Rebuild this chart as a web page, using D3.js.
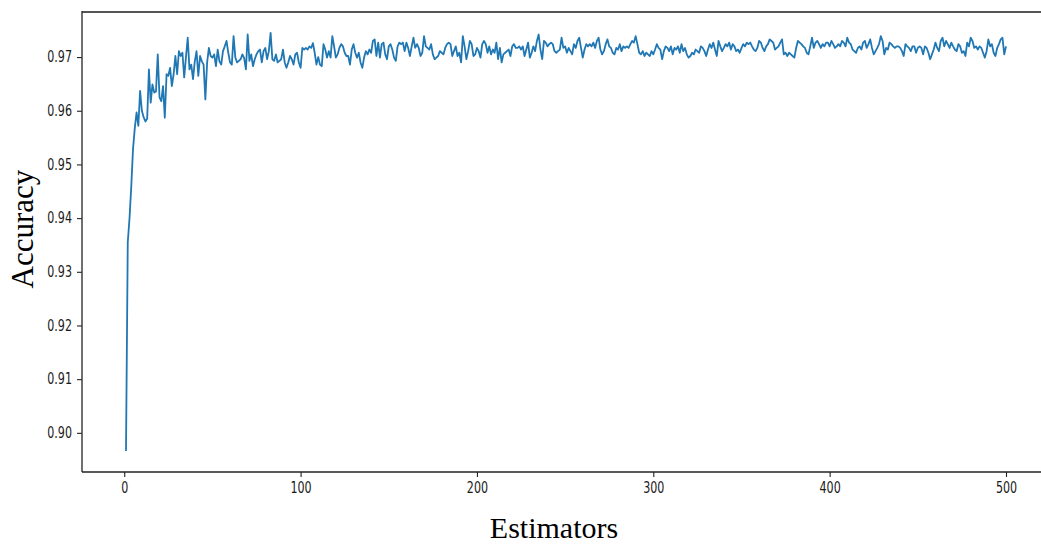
<!DOCTYPE html>
<html>
<head>
<meta charset="utf-8">
<script src="https://cdn.jsdelivr.net/npm/d3@7"></script>
<style>
  html, body { margin: 0; padding: 0; background: #fff; }
  svg { display: block; }
</style>
</head>
<body>
<svg id="chart" width="1041" height="544"></svg>
<script>
// Accuracy of the ensemble as the number of estimators grows (1..500)
const accFirst = [
  0.8966, 0.9355, 0.9400, 0.9460, 0.9530, 0.9568, 0.9597, 0.9572, 0.9637, 0.9600,
  0.9588, 0.9580, 0.9585, 0.9677, 0.9615, 0.9649, 0.9634, 0.9636, 0.9705, 0.9625,
  0.9618, 0.9646, 0.9587, 0.9668, 0.9665, 0.9680, 0.9646, 0.9668, 0.9702, 0.9668,
  0.9711, 0.9702, 0.9708, 0.9662, 0.9700, 0.9736, 0.9677, 0.9686, 0.9659, 0.9692,
  0.9711, 0.9665, 0.9702, 0.9692, 0.9686, 0.9621, 0.9690, 0.9717, 0.9702, 0.9699,
  0.9705, 0.9683, 0.9714, 0.9692, 0.9686, 0.9711, 0.9720, 0.9730, 0.9708, 0.9690,
  0.9686, 0.9739, 0.9699, 0.9690, 0.9693, 0.9696, 0.9705, 0.9698, 0.9677, 0.9742,
  0.9693, 0.9705, 0.9683, 0.9696, 0.9705, 0.9711, 0.9714, 0.9690, 0.9711, 0.9717,
  0.9696, 0.9711, 0.9745, 0.9696, 0.9693, 0.9705, 0.9690, 0.9693, 0.9696, 0.9714,
  0.9690, 0.9680, 0.9690, 0.9702, 0.9696, 0.9686, 0.9705, 0.9708, 0.9690, 0.9680,
  0.9717, 0.9714, 0.9717, 0.9714, 0.9720, 0.9717, 0.9726, 0.9708, 0.9686, 0.9700
];
const accSecond = [
  0.9686, 0.9683, 0.9724, 0.9714, 0.9699, 0.9711, 0.9699, 0.9739, 0.9720, 0.9699,
  0.9705, 0.9717, 0.9724, 0.9720, 0.9708, 0.9702, 0.9702, 0.9686, 0.9714, 0.9724,
  0.9708, 0.9699, 0.9708, 0.9690, 0.9680, 0.9699, 0.9711, 0.9705, 0.9714, 0.9708,
  0.9730, 0.9733, 0.9702, 0.9727, 0.9699, 0.9724, 0.9727, 0.9705, 0.9696, 0.9720,
  0.9724, 0.9714, 0.9699, 0.9693, 0.9720, 0.9727, 0.9724, 0.9727, 0.9711, 0.9727,
  0.9717, 0.9702, 0.9720, 0.9736, 0.9717, 0.9724, 0.9717, 0.9702, 0.9708, 0.9739,
  0.9720, 0.9717, 0.9714, 0.9724, 0.9705, 0.9696, 0.9699, 0.9702, 0.9711, 0.9708,
  0.9705, 0.9717, 0.9724, 0.9727, 0.9724, 0.9702, 0.9711, 0.9720, 0.9702, 0.9708,
  0.9690, 0.9739, 0.9720, 0.9696, 0.9711, 0.9730, 0.9724, 0.9702, 0.9705, 0.9717,
  0.9711, 0.9699, 0.9724, 0.9730, 0.9724, 0.9708, 0.9720, 0.9705, 0.9714, 0.9708,
  0.9727, 0.9696, 0.9717, 0.9690, 0.9705, 0.9708, 0.9711, 0.9714, 0.9702, 0.9720,
  0.9724, 0.9717, 0.9717, 0.9720, 0.9714, 0.9720, 0.9702, 0.9714, 0.9727, 0.9699,
  0.9708, 0.9720, 0.9711, 0.9730, 0.9742, 0.9714, 0.9696, 0.9730, 0.9727, 0.9720
];
const accThird = [
  0.9724, 0.9727, 0.9724, 0.9711, 0.9708, 0.9711, 0.9714, 0.9736, 0.9717, 0.9720,
  0.9708, 0.9717, 0.9711, 0.9705, 0.9724, 0.9717, 0.9730, 0.9736, 0.9717, 0.9699,
  0.9714, 0.9724, 0.9720, 0.9724, 0.9720, 0.9727, 0.9717, 0.9730, 0.9736, 0.9714,
  0.9705, 0.9711, 0.9724, 0.9733, 0.9720, 0.9717, 0.9708, 0.9705, 0.9717, 0.9714,
  0.9724, 0.9711, 0.9720, 0.9717, 0.9720, 0.9717, 0.9724, 0.9730, 0.9727, 0.9739,
  0.9724, 0.9708, 0.9705, 0.9711, 0.9702, 0.9708, 0.9705, 0.9702, 0.9711, 0.9705,
  0.9714, 0.9724, 0.9717, 0.9714, 0.9696, 0.9711, 0.9720, 0.9717, 0.9711, 0.9720,
  0.9705, 0.9717, 0.9714, 0.9720, 0.9708, 0.9724, 0.9711, 0.9717, 0.9705, 0.9699,
  0.9702, 0.9708, 0.9705, 0.9714, 0.9711, 0.9708, 0.9720, 0.9717, 0.9711, 0.9702,
  0.9714, 0.9724, 0.9717, 0.9727, 0.9714, 0.9702, 0.9730, 0.9720, 0.9711, 0.9717,
  0.9724, 0.9720, 0.9727, 0.9714, 0.9724, 0.9720, 0.9711, 0.9714, 0.9708, 0.9717,
  0.9724, 0.9720, 0.9727, 0.9724, 0.9727, 0.9720, 0.9714, 0.9711, 0.9717, 0.9730,
  0.9727, 0.9717, 0.9711, 0.9720, 0.9724, 0.9733, 0.9730, 0.9727, 0.9714, 0.9717,
  0.9720, 0.9727
];
const accFourth = [
  0.9733, 0.9705, 0.9708, 0.9702, 0.9708, 0.9705, 0.9702, 0.9699, 0.9717, 0.9730,
  0.9727, 0.9724, 0.9720, 0.9717, 0.9708, 0.9705, 0.9720, 0.9736, 0.9717, 0.9727,
  0.9730, 0.9724, 0.9717, 0.9724, 0.9720, 0.9727, 0.9727, 0.9720, 0.9730, 0.9724,
  0.9717, 0.9720, 0.9724, 0.9720, 0.9730, 0.9727, 0.9720, 0.9736, 0.9727, 0.9724,
  0.9714, 0.9711, 0.9708, 0.9717, 0.9720, 0.9714, 0.9727, 0.9730, 0.9717, 0.9724,
  0.9733, 0.9717, 0.9705, 0.9711, 0.9717, 0.9724, 0.9739, 0.9730, 0.9705, 0.9717,
  0.9714, 0.9727, 0.9724, 0.9720, 0.9717, 0.9720, 0.9720, 0.9717, 0.9711, 0.9702,
  0.9724, 0.9720, 0.9717, 0.9711, 0.9720, 0.9720, 0.9708, 0.9717, 0.9720, 0.9717,
  0.9705, 0.9720, 0.9717, 0.9708, 0.9696, 0.9705, 0.9714, 0.9727, 0.9717, 0.9711,
  0.9730, 0.9736, 0.9720, 0.9730, 0.9724, 0.9717, 0.9727, 0.9720, 0.9714, 0.9711,
  0.9724, 0.9720, 0.9708, 0.9711, 0.9702, 0.9727, 0.9720, 0.9736, 0.9730, 0.9717,
  0.9720, 0.9714, 0.9720, 0.9717, 0.9708, 0.9699, 0.9711, 0.9733, 0.9720, 0.9724,
  0.9708, 0.9702, 0.9717, 0.9724, 0.9733, 0.9736, 0.9705, 0.9720
];
const accuracy = accFirst.concat(accSecond, accThird, accFourth);
const estimators = accuracy.map((_, i) => i + 1);

const xTicks = [0, 100, 200, 300, 400, 500];
const yTicks = [0.90, 0.91, 0.92, 0.93, 0.94, 0.95, 0.96, 0.97];
const xTitle = "Estimators";
const yTitle = "Accuracy";

const svg = d3.select("#chart");
const plot = { left: 82, top: 12, right: 1050, bottom: 472 };

// matplotlib-style 5% data margins
const xMin = d3.min(estimators), xMax = d3.max(estimators);
const yMin = d3.min(accuracy), yMax = d3.max(accuracy);
const xPad = (xMax - xMin) * 0.05, yPad = (yMax - yMin) * 0.05;

const x = d3.scaleLinear().domain([xMin - xPad, xMax + xPad]).range([plot.left, plot.right]);
const y = d3.scaleLinear().domain([yMin - yPad, yMax + yPad]).range([plot.bottom, plot.top]);

const tickFont = "'DejaVu Sans', sans-serif";
const squeeze = 0.74;

function styleTicks(g) {
  g.select(".domain").remove();
  g.selectAll(".tick line").attr("stroke", "#222").attr("stroke-width", 1.1);
  g.selectAll(".tick text")
    .attr("fill", "#1a1a1a")
    .style("font-family", tickFont)
    .style("font-size", "15px")
    .each(function () {
      const w = this.getComputedTextLength();
      d3.select(this).attr("textLength", w * squeeze).attr("lengthAdjust", "spacingAndGlyphs");
    });
}

svg.append("g")
  .attr("transform", `translate(0,${plot.bottom})`)
  .call(d3.axisBottom(x).tickValues(xTicks).tickFormat(d3.format("d")).tickSize(5).tickPadding(5))
  .call(styleTicks);

svg.append("g")
  .attr("transform", `translate(${plot.left},0)`)
  .call(d3.axisLeft(y).tickValues(yTicks).tickFormat(d3.format(".2f")).tickSize(5).tickPadding(5))
  .call(styleTicks);

// accuracy curve
const line = d3.line().x((d, i) => x(estimators[i])).y(d => y(d));
svg.append("path")
  .datum(accuracy)
  .attr("d", line)
  .attr("fill", "none")
  .attr("stroke", "#1f77b4")
  .attr("stroke-width", 1.8)
  .attr("stroke-linejoin", "round");

// spines
svg.append("line")
  .attr("x1", plot.left).attr("x2", plot.right)
  .attr("y1", plot.top).attr("y2", plot.top)
  .attr("stroke", "#555").attr("stroke-width", 2);
svg.append("line")
  .attr("x1", plot.left).attr("x2", plot.left)
  .attr("y1", plot.top - 1).attr("y2", plot.bottom)
  .attr("stroke", "#333").attr("stroke-width", 1.4);
svg.append("line")
  .attr("x1", plot.left).attr("x2", plot.right)
  .attr("y1", plot.bottom).attr("y2", plot.bottom)
  .attr("stroke", "#222").attr("stroke-width", 1.4);

// axis titles
svg.append("text")
  .attr("x", 554).attr("y", 538)
  .attr("text-anchor", "middle")
  .style("font-family", "'Liberation Serif', 'Times New Roman', serif")
  .style("font-size", "30px")
  .attr("fill", "#000")
  .text(xTitle);

svg.append("text")
  .attr("transform", "translate(33,229) rotate(-90)")
  .attr("text-anchor", "middle")
  .style("font-family", "'Liberation Serif', 'Times New Roman', serif")
  .style("font-size", "31px")
  .attr("fill", "#000")
  .text(yTitle);
</script>
</body>
</html>
